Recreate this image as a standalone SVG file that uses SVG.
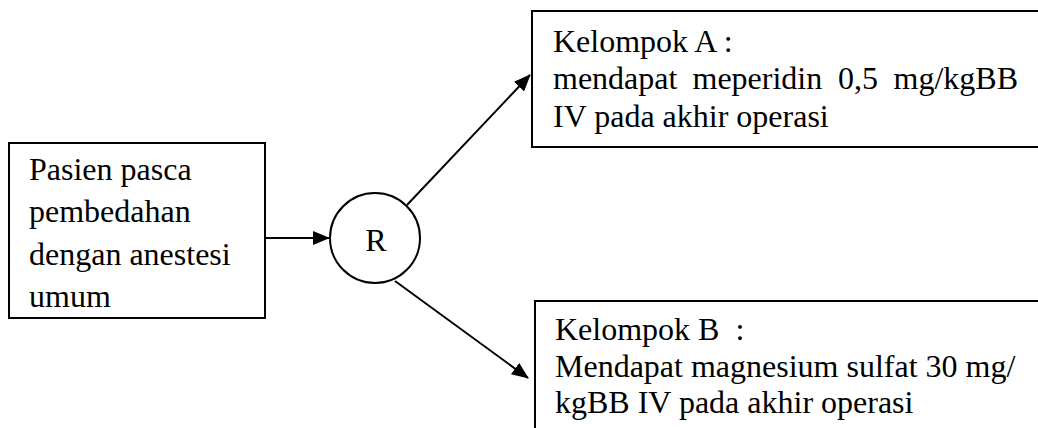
<svg xmlns="http://www.w3.org/2000/svg" width="1038" height="428" viewBox="0 0 1038 428">
<style>
.box{fill:#fff;stroke:#000;stroke-width:2}
.t{font-size:32px;fill:#000}
.c{stroke:#000;stroke-width:2;fill:none}
</style>
<defs>
<marker id="ah" markerUnits="userSpaceOnUse" markerWidth="18" markerHeight="14" refX="16" refY="7" orient="auto">
<path d="M0,0 L17,7 L0,14 z" fill="#000"/>
</marker>
</defs>
<rect width="1038" height="428" fill="#fff"/>
<g id="connectors">
<line class="c" x1="265" y1="238" x2="329" y2="238" marker-end="url(#ah)"/>
<line class="c" x1="407" y1="205" x2="530" y2="75" marker-end="url(#ah)"/>
<line class="c" x1="395" y1="281" x2="528" y2="378" marker-end="url(#ah)" stroke-width="1.6"/>
</g>
<g font-family="'Liberation Serif', 'Times New Roman', Tinos, 'DejaVu Serif', serif">
<g id="node-pasien">
<rect class="box" x="9" y="143" width="256" height="175"/>
<text class="t" x="29" y="180">Pasien pasca</text>
<text class="t" x="29" y="222">pembedahan</text>
<text class="t" x="29" y="265">dengan anestesi</text>
<text class="t" x="29" y="307">umum</text>
</g>
<g id="node-r">
<circle class="box" cx="375" cy="238" r="45"/>
<text class="t" x="376" y="251" text-anchor="middle">R</text>
</g>
<g id="node-a">
<rect class="box" x="532" y="11" width="520" height="136"/>
<text class="t" x="553" y="52">Kelompok A :</text>
<text class="t" y="89"><tspan x="553">mendapat</tspan><tspan x="692.5">meperidin</tspan><tspan x="838">0,5</tspan><tspan x="893.5">mg/kgBB</tspan></text>
<text class="t" x="553" y="127">IV pada akhir operasi</text>
</g>
<g id="node-b">
<rect class="box" x="535" y="301" width="520" height="140"/>
<text class="t" x="555" y="340" xml:space="preserve">Kelompok B  :</text>
<text class="t" x="555" y="377">Mendapat magnesium sulfat 30 mg/</text>
<text class="t" x="555" y="413">kgBB IV pada akhir operasi</text>
</g>
</g>
</svg>
